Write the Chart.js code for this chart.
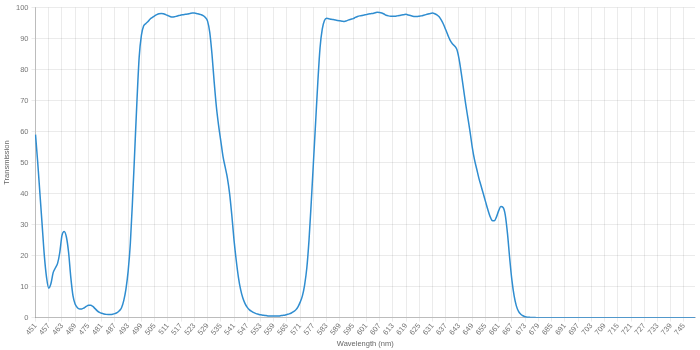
<!DOCTYPE html>
<html>
<head>
<meta charset="utf-8">
<script src="https://cdn.jsdelivr.net/npm/chart.js@4/dist/chart.umd.min.js"></script>
<style>
html,body{margin:0;padding:0;background:#fff;}
#wrap{width:700px;height:350px;}
</style>
</head>
<body>
<div id="wrap"><canvas id="c" width="700" height="350"></canvas></div>
<script>
// Wavelengths (nm), one per nm from 451 to 750
const wavelengths = [];
for (let w = 451; w <= 750; w++) wavelengths.push(String(w));

// Transmission (%), 451..500
const t451_500 = [59,50,40,30,20,13,9.5,11,14.5,16,
  17.5,21,26.5,27.8,26,21,13,7,4.3,3.2,
  2.8,2.8,3.1,3.6,4.0,4.0,3.6,2.9,2.2,1.7,
  1.4,1.2,1.05,1.0,1.0,1.1,1.3,1.6,2.2,3.2,
  5.5,9.2,15,24,38,54,70,84,91,94];
// 501..550
const t501_550 = [94.8,95.5,96.3,96.8,97.3,97.7,98,98.1,98,97.7,
  97.4,97.1,96.9,97,97.2,97.4,97.6,97.7,97.8,97.9,
  98.1,98.2,98.2,98.1,97.9,97.7,97.4,96.8,95.6,92,
  85,76,68,62,57,52,48.5,45,40,33,
  25,18.5,13,9,6.3,4.5,3.3,2.5,2,1.6];
// 551..600
const t551_600 = [1.3,1.1,0.9,0.8,0.7,0.6,0.5,0.5,0.5,0.5,
  0.5,0.6,0.7,0.8,1.0,1.2,1.5,1.9,2.5,3.5,
  5,7,10.5,16,25,37,50,63,76,87,
  93,95.8,96.5,96.4,96.2,96.1,96,95.8,95.7,95.6,
  95.5,95.7,96,96.2,96.4,96.8,97.1,97.3,97.4,97.6];
// 601..650
const t601_650 = [97.7,97.9,98,98.1,98.3,98.5,98.4,98.2,97.9,97.5,
  97.3,97.2,97.2,97.2,97.3,97.4,97.6,97.7,97.8,97.6,
  97.4,97.2,97.1,97.1,97.2,97.3,97.5,97.7,97.9,98.1,
  98.2,98.0,97.6,97,95.9,94.5,92.8,91,89.4,88.3,
  87.6,86.5,83.5,79,74,69,64.5,60,55,51];
// 651..700
const t651_700 = [48,45,42.5,40,37.5,35,32.8,31.3,31.2,32.5,
  34.5,35.8,35.5,33,27,19,12,7,3.8,2.0,
  1.1,0.6,0.3,0.15,0.1,0.05,0.05,0,0,0,
  0,0,0,0,0,0,0,0,0,0,
  0,0,0,0,0,0,0,0,0,0];
// 701..750
const t701_750 = [0,0,0,0,0,0,0,0,0,0,
  0,0,0,0,0,0,0,0,0,0,
  0,0,0,0,0,0,0,0,0,0,
  0,0,0,0,0,0,0,0,0,0,
  0,0,0,0,0,0,0,0,0,0];

const transmission = [].concat(t451_500, t501_550, t551_600, t601_650, t651_700, t701_750);

const yTicks = [0,10,20,30,40,50,60,70,80,90,100];

new Chart(document.getElementById('c'), {
  type: 'line',
  data: {
    labels: wavelengths,
    datasets: [{
      data: transmission,
      borderColor: 'rgb(47,141,208)',
      borderWidth: 1.5,
      pointRadius: 0,
      fill: false,
      tension: 0.4,
      cubicInterpolationMode: 'monotone'
    }]
  },
  options: {
    responsive: false,
    animation: false,
    layout: { padding: { left: 2, right: 5, top: 0, bottom: 2 } },
    plugins: { legend: { display: false }, tooltip: { enabled: false } },
    scales: {
      x: {
        grid: { color: 'rgba(0,0,0,0.08)', tickLength: 4 },
        border: { color: 'rgba(0,0,0,0.2)' },
        ticks: {
          autoSkip: false,
          minRotation: 50,
          maxRotation: 50,
          padding: 0,
          color: '#777',
          font: { size: 7.5 },
          callback: function(v, i) { return i % 6 === 0 ? this.getLabelForValue(v) : null; }
        },
        title: { display: true, text: 'Wavelength (nm)', color: '#666', font: { size: 7.5 }, padding: { top: 2, bottom: 0 } }
      },
      y: {
        min: 0, max: 100,
        afterBuildTicks: (s) => { s.ticks = yTicks.map(v => ({ value: v })); },
        grid: { color: 'rgba(0,0,0,0.08)', tickLength: 4 },
        border: { color: 'rgba(0,0,0,0.2)' },
        ticks: { color: '#777', font: { size: 7.5 }, padding: 3 },
        title: { display: true, text: 'Transmission', color: '#666', font: { size: 7.5 }, padding: { top: 0, bottom: 2 } }
      }
    }
  }
});
</script>
</body>
</html>
